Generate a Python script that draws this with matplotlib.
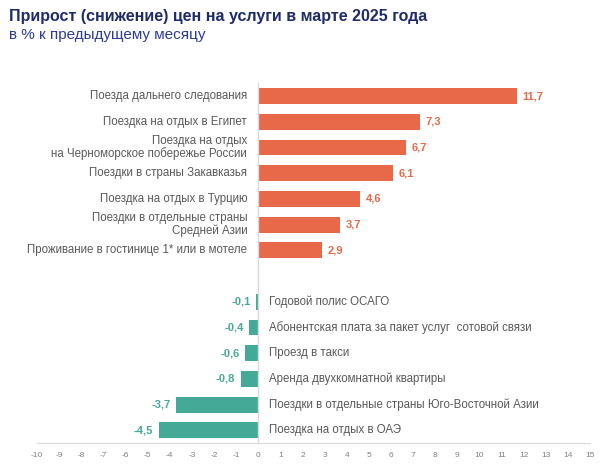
import matplotlib.pyplot as plt

categories = [
    "Поезда дальнего следования",
    "Поездка на отдых в Египет",
    "Поездка на отдых\nна Черноморское побережье России",
    "Поездки в страны Закавказья",
    "Поездка на отдых в Турцию",
    "Поездки в отдельные страны\nСредней Азии",
    "Проживание в гостинице 1* или в мотеле",
    "",
    "Годовой полис ОСАГО",
    "Абонентская плата за пакет услуг  сотовой связи",
    "Проезд в такси",
    "Аренда двухкомнатной квартиры",
    "Поездки в отдельные страны Юго-Восточной Азии",
    "Поездка на отдых в ОАЭ",
]
values = [11.7, 7.3, 6.7, 6.1, 4.6, 3.7, 2.9, None, -0.1, -0.4, -0.6, -0.8, -3.7, -4.5]
xticks = list(range(-10, 16))

ORANGE = "#E8694A"
TEAL = "#45A997"
GRAY = "#595959"

plt.rcParams["font.family"] = "Liberation Sans"
fig = plt.figure(figsize=(6.16, 4.70), dpi=100)
ax = fig.add_axes([0.06, 0.057, 0.898, 0.766])

for i, (cat, v) in enumerate(zip(categories, values)):
    if v is None:
        continue
    col = ORANGE if v > 0 else TEAL
    ax.barh(i, v, height=0.62, color=col)
    txt = f"{v:.1f}".replace(".", ",")
    if v > 0:
        ax.text(v + 0.25, i, txt, ha="left", va="center", color=col,
                fontsize=8, fontweight="bold")
        ax.text(-0.5, i, cat, ha="right", va="center", color=GRAY,
                fontsize=8.3, linespacing=1.1)
    else:
        ax.text(v - 0.25, i, txt, ha="right", va="center", color=col,
                fontsize=8, fontweight="bold")
        ax.text(0.5, i, cat, ha="left", va="center", color=GRAY, fontsize=8.3)

ax.set_ylim(13.5, -0.5)
ax.set_xlim(-10, 15)
ax.set_xticks(xticks)
ax.set_xticklabels([str(t) for t in xticks], fontsize=6, color="#808080")
ax.tick_params(axis="x", length=0, pad=6)
ax.set_yticks([])
for s in ["top", "right", "left"]:
    ax.spines[s].set_visible(False)
ax.spines["bottom"].set_color("#D9D9D9")
ax.axvline(0, color="#D9D9D9", lw=1)

fig.text(0.015, 0.965, "Прирост (снижение) цен на услуги в марте 2025 года",
         fontsize=11.5, fontweight="bold", color="#1F2A6B", va="center")
fig.text(0.015, 0.925, "в % к предыдущему месяцу", fontsize=11,
         color="#2B3A9A", va="center")

fig.savefig("out.png", dpi=100)
